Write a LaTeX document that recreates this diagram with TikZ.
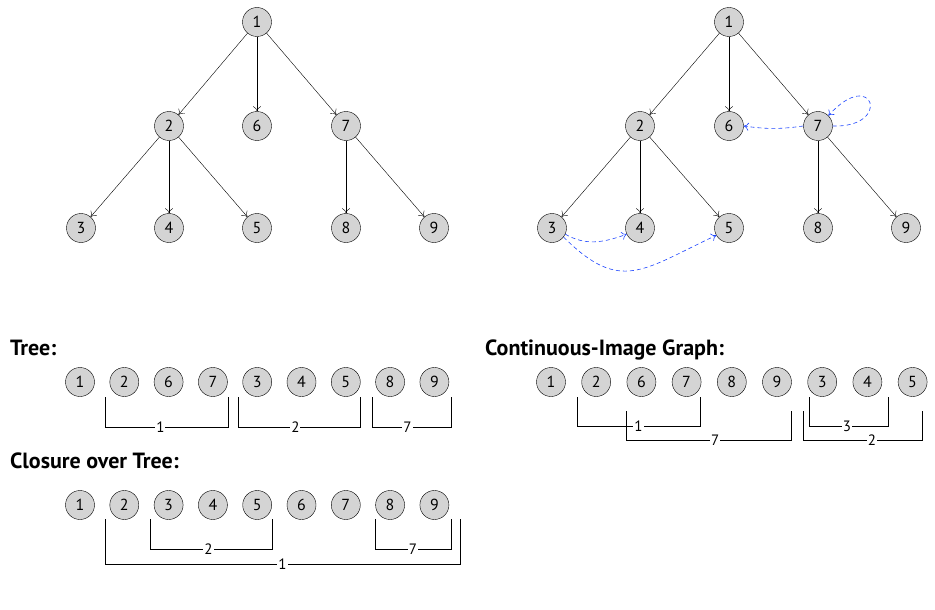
\documentclass[tikz,border=0pt]{standalone}
\usepackage{fontspec}
\setmainfont{PT Sans}
\usepackage{tikz}
\usetikzlibrary{arrows.meta}
\usepackage{xcolor}

\definecolor{linkblue}{RGB}{30,70,255}

\tikzset{
	vert/.style={circle, draw=black, fill=black!17, minimum size=29pt, inner sep=0pt, font=\fontsize{16}{16}\selectfont},
	treearrow/.style={black, -{To[length=5pt, width=8pt]}, thin},
	linkarrow/.style={linkblue, -{To[length=5pt, width=8pt]}, dash pattern=on 4pt off 3pt, semithick},
	lab/.style={fill=white, inner sep=1pt, font=\fontsize{15}{15}\selectfont},
	head/.style={anchor=base west, inner sep=0pt, font=\bfseries\fontsize{22}{22}\selectfont}
}

% group bracket: x left, x right, y top, y bottom, label, pos
\newcommand{\grp}[6]{\draw[thin] (#1,#3) -- (#1,#4) -- node[lab, pos=#6] {#5} (#2,#4) -- (#2,#3);}

\begin{document}
\begin{tikzpicture}[x=1pt, y=1pt]
	\useasboundingbox (0,0) rectangle (935,-610);
	% left tree
	\node[vert] (l1) at (257, -22) {1};
	\node[vert] (l2) at (169,-126) {2};
	\node[vert] (l6) at (257,-126) {6};
	\node[vert] (l7) at (346,-126) {7};
	\node[vert] (l3) at ( 81,-228) {3};
	\node[vert] (l4) at (169,-228) {4};
	\node[vert] (l5) at (257,-228) {5};
	\node[vert] (l8) at (346,-228) {8};
	\node[vert] (l9) at (434,-228) {9};
	\draw[treearrow] (l1)--(l2);
	\draw[treearrow] (l1)--(l6);
	\draw[treearrow] (l1)--(l7);
	\draw[treearrow] (l2)--(l3);
	\draw[treearrow] (l2)--(l4);
	\draw[treearrow] (l2)--(l5);
	\draw[treearrow] (l7)--(l8);
	\draw[treearrow] (l7)--(l9);
	% right tree
	\node[vert] (r1) at (729, -22) {1};
	\node[vert] (r2) at (640,-126) {2};
	\node[vert] (r6) at (729,-126) {6};
	\node[vert] (r7) at (818,-126) {7};
	\node[vert] (r3) at (552,-228) {3};
	\node[vert] (r4) at (640,-228) {4};
	\node[vert] (r5) at (729,-228) {5};
	\node[vert] (r8) at (818,-228) {8};
	\node[vert] (r9) at (906,-228) {9};
	\draw[treearrow] (r1)--(r2);
	\draw[treearrow] (r1)--(r6);
	\draw[treearrow] (r1)--(r7);
	\draw[treearrow] (r2)--(r3);
	\draw[treearrow] (r2)--(r4);
	\draw[treearrow] (r2)--(r5);
	\draw[treearrow] (r7)--(r8);
	\draw[treearrow] (r7)--(r9);
	\draw[linkarrow] (r7.west) to[bend left=8] (r6.east);
	\draw[linkarrow] (r7.east) .. controls +(60,-2) and +(45,50) .. (r7.north east);
	\draw[linkarrow] (r3.-25) to[out=-30, in=200] (r4.205);
	\draw[linkarrow] (r3.-38) to[out=-45, in=205, looseness=1.35] (r5.210);
	% tree order
	\node[head] (ht) at (10,-355) {Tree:};
	\foreach \n [count=\i from 0] in {1,2,6,7,3,4,5,8,9}
		\node[vert] (t\n) at (80+44.3*\i,-382) {\n};
	\grp{105}{228}{-397}{-427}{1}{0.45}
	\grp{238}{360}{-397}{-427}{2}{0.47}
	\grp{372}{451}{-397}{-427}{7}{0.45}
	% continuous-image order
	\node[head] (hc) at (485,-355) {Continuous-Image Graph:};
	\foreach \n [count=\i from 0] in {1,2,6,7,8,9,3,4,5}
		\node[vert] (c\n) at (551+45.2*\i,-382) {\n};
	\grp{577}{700}{-397}{-426}{1}{0.5}
	\grp{626}{791}{-411}{-440}{7}{0.54}
	\grp{809}{888}{-397}{-426}{3}{0.48}
	\grp{803}{922}{-411}{-440}{2}{0.58}
	% closure order
	\node[head] (hk) at (10,-468) {Closure over Tree:};
	\foreach \n [count=\i from 0] in {1,2,3,4,5,6,7,8,9}
		\node[vert] (k\n) at (80+44.3*\i,-505) {\n};
	\grp{150}{272}{-519}{-549}{2}{0.48}
	\grp{375}{451}{-519}{-549}{7}{0.5}
	\grp{105}{460}{-519}{-564}{1}{0.5}
\end{tikzpicture}
\end{document}
